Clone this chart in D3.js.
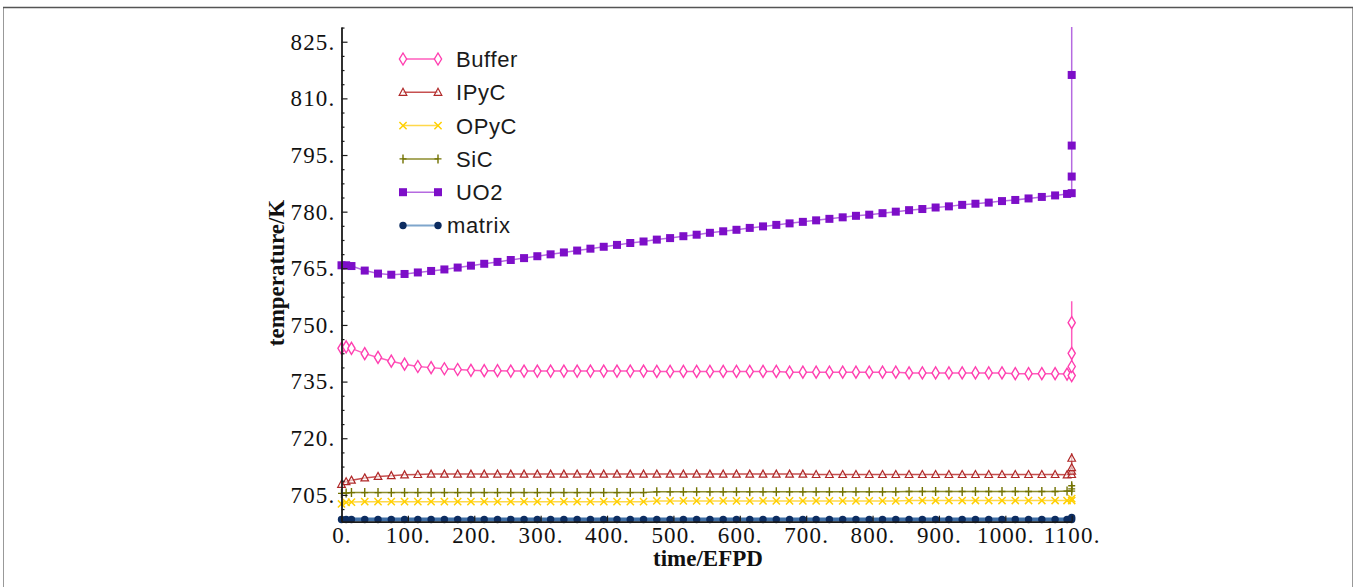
<!DOCTYPE html>
<html>
<head>
<meta charset="utf-8">
<title>temperature vs time/EFPD</title>
<script src="https://d3js.org/d3.v7.min.js"></script>
<style>
  body { margin: 0; background: #fff; }
</style>
</head>
<body>
<div id="chart"></div>
<script>
// values
var times = [0, 7, 15, 35, 55, 75, 95, 115, 135, 155, 175, 195, 215, 235, 255, 275, 295, 315, 335, 355,
  375, 395, 415, 435, 455, 475, 495, 515, 535, 555, 575, 595, 615, 635, 655, 675, 695, 715, 735, 755,
  775, 795, 815, 835, 855, 875, 895, 915, 935, 955, 975, 995, 1015, 1035, 1055, 1075, 1093, 1100];

var uo2 = [765.8, 765.8, 765.6, 764.4, 763.6, 763.3, 763.5, 763.9, 764.3, 764.7, 765.2, 765.7, 766.2, 766.7,
  767.2, 767.7, 768.2, 768.7, 769.2, 769.7, 770.2, 770.7, 771.2, 771.7, 772.1, 772.6, 773.0, 773.5, 773.9,
  774.4, 774.8, 775.2, 775.7, 776.1, 776.5, 776.9, 777.3, 777.7, 778.1, 778.5, 778.9, 779.2, 779.6, 780.0,
  780.4, 780.7, 781.1, 781.4, 781.8, 782.1, 782.4, 782.8, 783.1, 783.5, 783.9, 784.3, 784.7, 784.9];
var uo2End = [789.3, 797.5, 816.2, 835];

var buffer = [743.8, 744.2, 743.8, 742.4, 741.4, 740.4, 739.6, 739.0, 738.7, 738.4, 738.2, 738.0, 737.9, 737.9,
  737.8, 737.8, 737.8, 737.8, 737.8, 737.8, 737.8, 737.8, 737.8, 737.8, 737.8,
  737.7, 737.7, 737.7, 737.7, 737.7, 737.7, 737.7, 737.7, 737.7, 737.7,
  737.5, 737.5, 737.5, 737.5, 737.5, 737.5, 737.5, 737.5, 737.5,
  737.3, 737.3, 737.3, 737.3, 737.3, 737.3, 737.3, 737.3,
  737.1, 737.1, 737.1, 737.1, 737.0, 736.6];
var bufferEnd = [739.0, 742.5, 750.6, 756.3];

var ipyc = [707.8, 708.5, 708.9, 709.5, 709.9, 710.1, 710.3, 710.4,
  710.5, 710.5, 710.5, 710.5, 710.5, 710.5, 710.5, 710.5, 710.5, 710.5, 710.5, 710.5, 710.5, 710.5, 710.5,
  710.5, 710.5, 710.5, 710.5, 710.5, 710.5, 710.5, 710.5, 710.5, 710.5, 710.5, 710.5, 710.5, 710.5,
  710.4, 710.4, 710.4, 710.4, 710.4, 710.4, 710.4, 710.4, 710.4, 710.4, 710.4, 710.4, 710.4, 710.4,
  710.4, 710.4, 710.4, 710.4, 710.4, 710.3, 710.4];
var ipycEnd = [711.3, 712.2, 714.7, 716.0];

var sic = [705.4, 705.5, 705.6,
  705.6, 705.6, 705.6, 705.6, 705.6, 705.6, 705.6, 705.6, 705.6, 705.6, 705.6, 705.6, 705.6, 705.6, 705.6,
  705.6, 705.6, 705.6, 705.6, 705.6, 705.6, 705.6,
  705.8, 705.8, 705.8, 705.8, 705.8, 705.8, 705.8, 705.8, 705.8, 705.8, 705.8, 705.8, 705.8, 705.8, 705.8,
  705.8, 705.8, 705.8, 705.8,
  705.9, 705.9, 705.9, 705.9, 705.9, 705.9, 705.9, 705.9, 705.9, 705.9, 705.9, 705.9, 706.0, 706.0];
var sicEnd = [706.6, 707.4, 708.2];

var opyc = [702.6, 703.0, 703.1,
  703.2, 703.2, 703.2, 703.2, 703.2, 703.2, 703.2, 703.2, 703.2, 703.2, 703.2, 703.2, 703.2, 703.2, 703.2,
  703.2, 703.2, 703.2, 703.2, 703.2, 703.2, 703.2,
  703.4, 703.4, 703.4, 703.4, 703.4, 703.4, 703.4, 703.4, 703.4, 703.4, 703.4, 703.4, 703.4, 703.4, 703.4,
  703.4, 703.4, 703.4, 703.4,
  703.5, 703.5, 703.5, 703.5, 703.5, 703.5, 703.5, 703.5, 703.5, 703.5, 703.5, 703.5, 703.5, 703.5];
var opycEnd = [704.0, 704.6];

var matrix = [698.5, 698.5, 698.5, 698.5, 698.5, 698.5, 698.5, 698.5, 698.5, 698.5, 698.5, 698.5, 698.5, 698.5,
  698.5, 698.5, 698.5, 698.5, 698.5, 698.5, 698.5, 698.5, 698.5, 698.5, 698.5, 698.5, 698.5, 698.5, 698.5,
  698.5, 698.5, 698.5, 698.5, 698.5, 698.5, 698.5, 698.5, 698.5, 698.5, 698.5, 698.5, 698.5, 698.5, 698.5,
  698.5, 698.5, 698.5, 698.5, 698.5, 698.5, 698.5, 698.5, 698.5, 698.5, 698.5, 698.5, 698.5, 698.5];
var matrixEnd = [699.0, 699.6];

var xTicks = [0, 100, 200, 300, 400, 500, 600, 700, 800, 900, 1000, 1100];
var yTicks = [705, 720, 735, 750, 765, 780, 795, 810, 825];

var legendNames = ["Buffer", "IPyC", "OPyC", "SiC", "UO2", "matrix"];

// styles per series, same order as the legend
var series = [
  { vals: buffer, end: bufferEnd, color: "#ff3fb0", line: "#ff5cbd", shape: "diamond", lw: 1.5 },
  { vals: ipyc, end: ipycEnd, color: "#b02828", line: "#c65050", shape: "triangle", lw: 1.5 },
  { vals: opyc, end: opycEnd, color: "#ffd000", line: "#ffd84a", shape: "cross", lw: 1.5 },
  { vals: sic, end: sicEnd, color: "#727200", line: "#8c8c2c", shape: "plus", lw: 1.5 },
  { vals: uo2, end: uo2End, color: "#7d0ec8", line: "#b56ae0", shape: "square", lw: 1.5 },
  { vals: matrix, end: matrixEnd, color: "#0c2c60", line: "#3f6fa6", shape: "circle", lw: 4 }
];

var width = 1356, height = 587;

var svg = d3.select("#chart").append("svg")
  .attr("width", width)
  .attr("height", height);

// outer frame
svg.append("path")
  .attr("d", "M3.5,587 V7.5 M1352.5,7.5 V587")
  .attr("fill", "none").attr("stroke", "#999").attr("stroke-width", 1);
svg.append("line")
  .attr("x1", 3).attr("x2", 1353).attr("y1", 7.5).attr("y2", 7.5)
  .attr("stroke", "#555").attr("stroke-width", 1.6);

var x = d3.scaleLinear().domain([0, 1100]).range([341.5, 1071.7]);
var y = d3.scaleLinear().domain([697.9, 828.9]).range([521.7, 27]);

var fmt = function (d) { return d + "."; };
var serif = "'Liberation Serif', 'Times New Roman', serif";

// clip for the lines so the spikes stop at the top of the axis
svg.append("clipPath").attr("id", "plotclip")
  .append("rect").attr("x", 330).attr("y", 27).attr("width", 760).attr("height", 560);

var line = d3.line()
  .x(function (d) { return x(d[0]); })
  .y(function (d) { return y(d[1]); });

function pointsOf(s) {
  var pts = times.map(function (t, i) { return [t, s.vals[i]]; });
  return pts.concat(s.end.map(function (v) { return [1100, v]; }));
}

function drawMarker(g, shape, color) {
  if (shape === "square") {
    g.append("rect").attr("x", -4).attr("y", -4).attr("width", 8).attr("height", 8).attr("fill", color);
  } else if (shape === "circle") {
    g.append("circle").attr("r", 3.7).attr("fill", color);
  } else if (shape === "diamond") {
    g.append("path").attr("d", "M0,-6L3.6,0L0,6L-3.6,0Z")
      .attr("fill", "#fff").attr("stroke", color).attr("stroke-width", 1.4);
  } else if (shape === "triangle") {
    g.append("path").attr("d", "M0,-4L3.8,3L-3.8,3Z")
      .attr("fill", "#fff").attr("fill-opacity", 0.6).attr("stroke", color).attr("stroke-width", 1.2);
  } else if (shape === "cross") {
    g.append("path").attr("d", "M-3.6,-3.6L3.6,3.6M-3.6,3.6L3.6,-3.6")
      .attr("stroke", color).attr("stroke-width", 1.5);
  } else if (shape === "plus") {
    g.append("path").attr("d", "M0,-4.5L0,4.5M-3.5,0L3.5,0")
      .attr("stroke", color).attr("stroke-width", 1.4);
  }
}

// lines
var lines = svg.append("g").attr("clip-path", "url(#plotclip)");
series.forEach(function (s) {
  lines.append("path")
    .datum(pointsOf(s))
    .attr("fill", "none")
    .attr("stroke", s.line)
    .attr("stroke-width", s.lw)
    .attr("d", line);
});

// markers (last point of each spike has none)
series.forEach(function (s) {
  var pts = pointsOf(s);
  pts = pts.slice(0, pts.length - 1);
  var g = svg.append("g");
  g.selectAll("g")
    .data(pts)
    .enter().append("g")
    .attr("transform", function (d) { return "translate(" + x(d[0]) + "," + y(d[1]) + ")"; })
    .each(function () { drawMarker(d3.select(this), s.shape, s.color); });
});

// y axis
var yAxis = svg.append("g")
  .attr("transform", "translate(341.5,0)")
  .call(d3.axisLeft(y).tickValues(yTicks).tickSize(-6).tickSizeOuter(0).tickPadding(6).tickFormat(fmt));

var yMinor = d3.range(701.25, 829, 3.75).filter(function (v) { return (v - 705) % 15 !== 0; });
svg.append("g")
  .attr("transform", "translate(341.5,0)")
  .call(d3.axisLeft(y).tickValues(yMinor).tickSize(-3).tickFormat(""))
  .call(function (g) { g.select(".domain").remove(); });

// x axis
var xAxis = svg.append("g")
  .attr("transform", "translate(0,521.7)")
  .call(d3.axisBottom(x).tickValues(xTicks).tickSize(-6).tickSizeOuter(0).tickPadding(5).tickFormat(fmt));

svg.selectAll(".domain").attr("stroke", "#1a1a1a").attr("stroke-width", 1.8);
svg.selectAll(".tick line").attr("stroke", "#1a1a1a").attr("stroke-width", 1.2);
svg.selectAll(".tick text")
  .attr("font-family", serif)
  .attr("font-size", 23)
  .attr("letter-spacing", 1.2)
  .attr("fill", "#111");

// axis titles
svg.append("text")
  .attr("transform", "translate(284,273) rotate(-90)")
  .attr("text-anchor", "middle")
  .attr("font-family", serif)
  .attr("font-weight", "bold")
  .attr("font-size", 23)
  .attr("fill", "#111")
  .text("temperature/K");

svg.append("text")
  .attr("x", 708).attr("y", 566)
  .attr("text-anchor", "middle")
  .attr("font-family", serif)
  .attr("font-weight", "bold")
  .attr("font-size", 23)
  .attr("fill", "#111")
  .text("time/EFPD");

// legend
var legend = svg.append("g");
legendNames.forEach(function (name, i) {
  var s = series[i];
  var ly = 59 + i * 33.3;
  legend.append("line")
    .attr("x1", 403).attr("x2", 438).attr("y1", ly).attr("y2", ly)
    .attr("stroke", i === 5 ? "#7fa6cc" : s.line).attr("stroke-width", i === 5 ? 2 : 1.5);
  [403, 438].forEach(function (lx) {
    var g = legend.append("g").attr("transform", "translate(" + lx + "," + ly + ")");
    drawMarker(g, s.shape, s.color);
  });
  legend.append("text")
    .attr("x", i === 5 ? 447 : 456)
    .attr("y", ly)
    .attr("dy", "0.36em")
    .attr("font-family", "'Liberation Sans', Arial, sans-serif")
    .attr("font-size", 22)
    .attr("letter-spacing", 0.6)
    .attr("fill", "#1a1a1a")
    .text(name);
});
</script>
</body>
</html>
